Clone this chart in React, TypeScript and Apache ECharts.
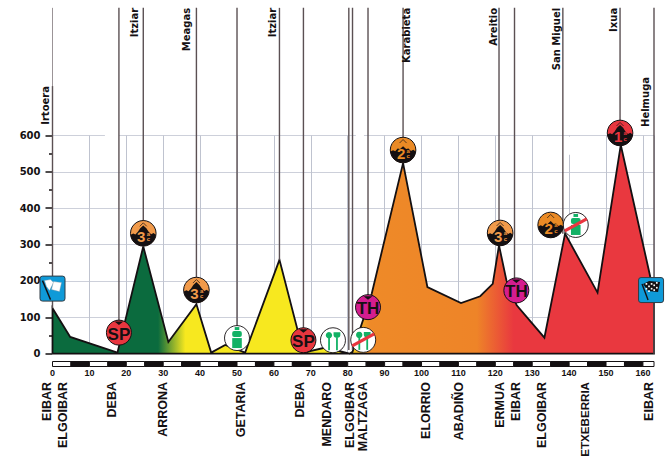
import React, { useEffect, useRef } from "react";
import * as echarts from "echarts";

const TOTAL_KM = 163;
const profileKm = [0, 0, 4.8, 17.6, 24.6, 31.4, 39, 43, 46.8, 52.2, 61.5, 68, 74, 80.5, 81.3, 86.5, 95, 101.6, 110.7, 115.9, 119.3, 121, 123, 125.8, 133.3, 138.9, 147.7, 154, 162, 163, 163, 0];
const profileElev = [0, 125, 46, 3, 295, 32, 136, 3, 24, 3, 258, 3, 17, 0, 5, 165, 524, 183, 139, 158, 192, 298, 202, 133, 44, 330, 168, 574, 211, 170, 0, 0];
const yTicks = [0, 100, 200, 300, 400, 500, 600];

const climbLabels = ["Irtoera", "Itziar", "Meagas", "Itziar", "Karabieta", "Areitio", "San Miguel", "Ixua", "Helmuga"];
const climbLabelKm = [-1.8, 22.1, 36.4, 59.5, 96, 119.6, 136.6, 151.9, 160.8];
const climbLabelTop = [736, 951, 951, 951, 951, 951, 951, 951, 761];

const poleKm = [0, 18, 24.6, 39, 50, 61.5, 68, 80.3, 81.3, 85.5, 95, 121, 125.2, 138.3, 153.8, 163];
const poleFoot = [125, 60, 331, 175, 43, 258, 37, 10, 10, 128, 560, 332, 174, 330, 607, 0];
const poleTop = [736, 951, 951, 951, 951, 951, 951, 951, 951, 951, 951, 951, 951, 951, 951, 951];
const faintPoleKm = [0];
const faintPoleFoot = [736];
const faintPoleTop = [951];

const townNames = ["EIBAR", "ELGOIBAR", "DEBA", "ARRONA", "GETARIA", "DEBA", "MENDARO", "ELGOIBAR", "MALTZAGA", "ELORRIO", "ABADIÑO", "ERMUA", "EIBAR", "ELGOIBAR", "ETXEBERRIA", "EIBAR"];
const townKm = [-1.4, 2.9, 16, 30, 51, 67, 74.3, 80.6, 84.2, 101.1, 110.2, 121.3, 125.6, 132.7, 144.3, 161.7];

const markerKinds = ["start", "sp", "c3", "c3", "water", "sp", "food", "foodEnd", "th", "c2", "c3", "th", "c2", "waterEnd", "c1", "finish"];
const markerKm = [0, 18, 24.6, 39, 50, 68, 76, 84.2, 85.5, 95, 121.3, 125.7, 135, 141.8, 153.8, 162.2];
const markerElev = [179, 58, 331, 175, 43, 37, 37, 38, 128, 560, 332, 174, 354, 354, 607, 175];

const scaleStarts = [0, 5, 10, 15, 20, 25, 30, 35, 40, 45, 50, 55, 60, 65, 70, 75, 80, 85, 90, 95, 100, 105, 110, 115, 120, 125, 130, 135, 140, 145, 150, 155, 160];

const gapFromKm = [14.2, 82.2, 140];
const gapToKm = [18, 84.4, 140];
const gapFromElev = [600, 600, 597];
const gapToElev = [600, 600, 547];

const INK = "#141012";
const POLE = "#5b5053";

function mountain(color: string, label: string, peak: number, r: number) {
  const pts: number[][] = [
    [-0.98, 0.12], [-0.78, 0.02], [-0.62, 0.1], [-0.42, -0.12], [-0.24, peak + 0.22], [0, peak], [0.24, peak + 0.22],
    [0.42, -0.12], [0.62, 0.08], [0.8, -0.02], [0.98, 0.12],
  ];
  for (let i = 1; i < 24; i++) {
    const a = 0.12 + (i / 24) * (Math.PI - 0.24);
    pts.push([Math.cos(a), Math.sin(a)]);
  }
  return [
    { type: "circle", shape: { cx: 0, cy: 0, r }, style: { fill: color, stroke: INK, lineWidth: 1 } },
    { type: "polygon", shape: { points: pts.map((p) => [p[0] * r, p[1] * r]) }, style: { fill: INK } },
    { type: "polyline", shape: { points: [[-3.5, -7], [0, -10.5], [3.5, -7]] }, style: { fill: "none", stroke: INK, lineWidth: 0.7 } },
    { type: "text", x: -2, y: 3.5, style: { text: label, fill: color, font: "bold 15px 'Liberation Sans'", align: "center", verticalAlign: "middle" } },
    { type: "text", x: 5.2, y: 0.5, style: { text: "a", fill: color, font: "bold 6px 'Liberation Sans'", align: "center", verticalAlign: "middle" } },
    { type: "text", x: 5.2, y: 6, style: { text: "c", fill: color, font: "bold 6px 'Liberation Sans'", align: "center", verticalAlign: "middle" } },
  ];
}

function sprint(color: string, label: string) {
  return [
    { type: "circle", shape: { cx: 0, cy: 0, r: 12.5 }, style: { fill: color, stroke: INK, lineWidth: 1 } },
    { type: "polygon", shape: { points: [[-4.5, -11], [4.5, -11], [0, -7.5]] }, style: { fill: INK } },
    { type: "text", x: 0, y: 1.5, style: { text: label, fill: INK, font: "bold 17px 'Liberation Sans Narrow','Liberation Sans'", align: "center", verticalAlign: "middle" } },
  ];
}

function service(kind: string) {
  const green = "#12b165";
  const base: any[] = [{ type: "circle", shape: { cx: 0, cy: 0, r: 12.5 }, style: { fill: "#fff", stroke: INK, lineWidth: 0.9 } }];
  if (kind.startsWith("water")) {
    base.push(
      { type: "rect", shape: { x: -2.3, y: -11, width: 4.6, height: 3 }, style: { fill: green } },
      { type: "rect", shape: { x: -4.8, y: -7, width: 9.6, height: 6, r: 2 }, style: { fill: green } },
      { type: "rect", shape: { x: -4.8, y: 0, width: 9.6, height: 10 }, style: { fill: green } },
    );
  } else {
    base.push(
      { type: "circle", shape: { cx: -4, cy: -5, r: 3.2 }, style: { fill: green } },
      { type: "rect", shape: { x: -4.8, y: -4, width: 1.8, height: 14 }, style: { fill: green } },
      { type: "rect", shape: { x: 3.1, y: -3, width: 1.8, height: 13 }, style: { fill: green } },
      { type: "rect", shape: { x: 0.6, y: -8, width: 6.8, height: 5.5, r: [0, 0, 3, 3] }, style: { fill: green } },
    );
  }
  if (kind.endsWith("End")) {
    base.push({ type: "line", shape: { x1: -11, y1: 6, x2: 11, y2: -6 }, style: { stroke: "#e9363f", lineWidth: 3.2 } });
  }
  return base;
}

function flagIcon(finish: boolean) {
  const base: any[] = [
    { type: "rect", shape: { x: -12.5, y: -12.5, width: 25, height: 25, r: 2.5 }, style: { fill: "#0f9ad8", stroke: "#303b44", lineWidth: 1 } },
  ];
  if (finish) {
    base.push({ type: "polygon", shape: { points: [[-8, -6], [-2, -9], [9, -8], [7, 2], [-3, 1]] }, style: { fill: INK } });
    for (let c = 0; c < 5; c++) {
      for (let r = 0; r < 4; r++) {
        if ((c + r) % 2 === 0) {
          base.push({ type: "rect", shape: { x: -5.5 + c * 2.6, y: -8 + r * 2.4 + (c > 2 ? 0 : 1), width: 1.7, height: 1.7 }, style: { fill: "#fff" } });
        }
      }
    }
    base.push({ type: "line", shape: { x1: -9, y1: -6, x2: -3, y2: 10 }, style: { stroke: INK, lineWidth: 1.4 } });
  } else {
    base.push(
      { type: "polygon", shape: { points: [[-8, -8], [-2, -9], [1, -6], [-3, 2], [-6, -2]] }, style: { fill: "#fff", stroke: "#8a9aa4", lineWidth: 0.4 } },
      { type: "polygon", shape: { points: [[1, -7], [9, -6], [7, 3], [-1, 1]] }, style: { fill: "#fff", stroke: "#8a9aa4", lineWidth: 0.4 } },
      { type: "line", shape: { x1: -10, y1: -8, x2: -2, y2: 11 }, style: { stroke: INK, lineWidth: 1.4 } },
    );
  }
  return base;
}

function markerChildren(kind: string): any[] {
  switch (kind) {
    case "c1": return mountain("#e8363f", "1", -0.62, 12.8);
    case "c2": return mountain("#ea8a25", "2", -0.3, 12.8);
    case "c3": return mountain("#f19a4a", "3", -0.62, 12.8);
    case "sp": return sprint("#e8363f", "SP");
    case "th": return sprint("#d41d8f", "TH");
    case "start": return flagIcon(false);
    case "finish": return flagIcon(true);
    default: return service(kind);
  }
}

const stop = (km: number, color: string) => ({ offset: km / TOTAL_KM, color });

function poleSeries(name: string, kms: number[], feet: number[], tops: number[], stroke: string, lineWidth: number) {
  return {
    type: "custom", name, xAxisIndex: 0, yAxisIndex: 0, z: 4,
    data: kms.map((k, i) => [k, feet[i], tops[i]]),
    renderItem: (_p: any, api: any) => {
      const a = api.coord([api.value(0), api.value(1)]);
      const b = api.coord([api.value(0), api.value(2)]);
      return { type: "line", shape: { x1: a[0], y1: a[1], x2: b[0], y2: b[1] }, style: { stroke, lineWidth } };
    },
  };
}

export default function App() {
  const ref = useRef<HTMLDivElement>(null);

  useEffect(() => {
    document.body.style.margin = "0";
    const chart = echarts.init(ref.current!, undefined, { renderer: "svg" });
    const option: any = {
      animation: false,
      backgroundColor: "#fff",
      grid: [
        { left: 52.5, top: 135.5, width: 601.5, height: 218.2 },
        { left: 52.5, top: 361.5, width: 601.5, height: 5 },
      ],
      xAxis: [
        {
          type: "value", gridIndex: 0, min: 0, max: TOTAL_KM, interval: 10,
          axisLine: { show: false }, axisTick: { show: false }, axisLabel: { show: false },
          splitLine: { show: true, lineStyle: { color: "#bfc3cf", width: 1 } },
        },
        {
          type: "value", gridIndex: 1, min: 0, max: TOTAL_KM, interval: 10,
          axisLine: { show: false }, axisTick: { show: false }, splitLine: { show: false },
          axisLabel: {
            show: true, margin: 2, color: INK, showMaxLabel: false,
            fontFamily: "Liberation Sans", fontWeight: "bold", fontSize: 9,
            formatter: (v: number) => (v % 10 === 0 ? String(v) : ""),
          },
        },
      ],
      yAxis: [
        {
          type: "value", gridIndex: 0, min: 0, max: 600, interval: 100, offset: 7,
          axisLine: { show: false },
          axisTick: { show: true, length: 7, lineStyle: { color: INK, width: 1.5 } },
          minorTick: { show: true, splitNumber: 2, length: 3.5, lineStyle: { color: INK, width: 1.5 } },
          minorSplitLine: { show: false },
          axisLabel: {
            margin: 5, color: INK, fontFamily: "DejaVu Sans", fontWeight: "bold", fontSize: 10,
            customValues: yTicks,
          },
          splitLine: { show: true, lineStyle: { color: "#cdd0da", width: 1.2 } },
        },
        {
          type: "value", gridIndex: 1, min: 0, max: 1,
          axisLine: { show: false }, axisTick: { show: false }, axisLabel: { show: false }, splitLine: { show: false },
        },
      ],
      series: [
        {
          type: "custom", name: "gaps", xAxisIndex: 0, yAxisIndex: 0, z: 1,
          data: gapFromKm.map((k, i) => [k, gapFromElev[i], gapToKm[i], gapToElev[i]]),
          renderItem: (_p: any, api: any) => {
            const a = api.coord([api.value(0), api.value(1)]);
            const b = api.coord([api.value(2), api.value(3)]);
            return { type: "line", shape: { x1: a[0], y1: a[1], x2: b[0], y2: b[1] }, style: { stroke: "#fff", lineWidth: 2.5 } };
          },
        },
        {
          type: "line", name: "profile", xAxisIndex: 0, yAxisIndex: 0, z: 3, clip: false,
          symbol: "none",
          data: profileKm.map((k, i) => [k, profileElev[i]]),
          lineStyle: { color: INK, width: 1.8, join: "miter" },
          areaStyle: {
            opacity: 1,
            color: new echarts.graphic.LinearGradient(0, 0, 1, 0, [
              stop(0, "#0b6b3e"), stop(28.6, "#0b6b3e"), stop(36, "#f7e81f"), stop(79, "#f7e81f"),
              stop(86, "#ee8a28"), stop(115, "#ee8428"), stop(125, "#e9383f"), stop(163, "#e9383f"),
            ]),
          },
        },
        poleSeries("poles", poleKm, poleFoot, poleTop, POLE, 1.4),
        poleSeries("faintPoles", faintPoleKm, faintPoleFoot, faintPoleTop, "#9b9497", 1),
        {
          type: "custom", name: "climbs", xAxisIndex: 0, yAxisIndex: 0, z: 5,
          data: climbLabelKm.map((k, i) => [k, climbLabelTop[i]]),
          renderItem: (p: any, api: any) => {
            const a = api.coord([api.value(0), api.value(1)]);
            return {
              type: "text", x: a[0], y: a[1], rotation: Math.PI / 2,
              style: { text: climbLabels[p.dataIndex], fill: INK, font: "bold 10px 'DejaVu Sans'", align: "right", verticalAlign: "middle" },
            };
          },
        },
        {
          type: "custom", name: "markers", xAxisIndex: 0, yAxisIndex: 0, z: 6,
          data: markerKm.map((k, i) => [k, markerElev[i]]),
          renderItem: (p: any, api: any) => {
            const a = api.coord([api.value(0), api.value(1)]);
            return { type: "group", x: a[0], y: a[1], children: markerChildren(markerKinds[p.dataIndex]) };
          },
        },
        {
          type: "custom", name: "scale", xAxisIndex: 1, yAxisIndex: 1, z: 3,
          data: scaleStarts.map((k) => [k, Math.min(k + 5, TOTAL_KM)]),
          renderItem: (p: any, api: any) => {
            const a = api.coord([api.value(0), 1]);
            const b = api.coord([api.value(1), 0]);
            return {
              type: "rect",
              shape: { x: a[0], y: a[1], width: b[0] - a[0], height: b[1] - a[1] },
              style: { fill: p.dataIndex % 2 === 0 ? "#fff" : INK, stroke: INK, lineWidth: 1 },
            };
          },
        },
        {
          type: "custom", name: "towns", xAxisIndex: 1, yAxisIndex: 1, z: 5,
          data: townKm.map((k) => [k, 0]),
          renderItem: (p: any, api: any) => {
            const a = api.coord([api.value(0), api.value(1)]);
            const name = townNames[p.dataIndex];
            const size = name.length > 9 ? 11.6 : 12.5;
            return {
              type: "text", x: a[0], y: a[1] + 15.5, rotation: Math.PI / 2,
              style: { text: name, fill: INK, font: `bold ${size}px 'Liberation Sans'`, align: "right", verticalAlign: "middle" },
            };
          },
        },
      ],
    };
    chart.setOption(option);
    return () => chart.dispose();
  }, []);

  return <div ref={ref} style={{ width: 670, height: 457 }} />;
}
